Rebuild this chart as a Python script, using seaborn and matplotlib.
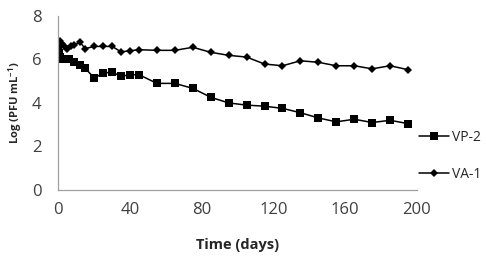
import matplotlib
matplotlib.use("Agg")
import matplotlib.pyplot as plt
import seaborn as sns
import pandas as pd

# survival of phages over time
vp2_days = [0, 0.5, 1, 2, 3, 6, 9, 12, 15, 20, 25, 30, 35, 40, 45, 55, 65, 75, 85,
            95, 105, 115, 125, 135, 145, 155, 165, 175, 185, 195]
vp2_log = [6.5, 6.3, 6.1, 6.0, 6.0, 6.0, 5.9, 5.75, 5.6, 5.14, 5.37, 5.42, 5.22, 5.3, 5.3,
           4.9, 4.9, 4.67, 4.26, 4.0, 3.9, 3.85, 3.75, 3.55, 3.31, 3.13, 3.25, 3.1, 3.2, 3.05]

va1_days = [0, 0.5, 1, 2, 3, 5, 7, 9, 12, 15, 20, 25, 30, 35, 40, 45, 55, 65, 75, 85,
            95, 105, 115, 125, 135, 145, 155, 165, 175, 185, 195]
va1_log = [6.3, 6.6, 6.85, 6.7, 6.6, 6.5, 6.6, 6.65, 6.8, 6.5, 6.6, 6.6, 6.6, 6.35, 6.4, 6.45,
           6.42, 6.42, 6.56, 6.33, 6.19, 6.11, 5.79, 5.71, 5.94, 5.87, 5.71, 5.71, 5.57, 5.71, 5.53]

vp2 = pd.DataFrame({"day": vp2_days, "log": vp2_log})
va1 = pd.DataFrame({"day": va1_days, "log": va1_log})

sns.set_style("white")
plt.rcParams["font.family"] = ["Open Sans", "DejaVu Sans"]

fig = plt.figure(figsize=(4.86, 2.58), dpi=100)
ax = fig.add_axes([0.120, 0.264, 0.738, 0.674])

sns.lineplot(data=vp2, x="day", y="log", ax=ax, color="black", lw=1.1,
             marker="s", markersize=5.5, markeredgewidth=0, label="VP-2")
sns.lineplot(data=va1, x="day", y="log", ax=ax, color="black", lw=1.1,
             marker="D", markersize=4.4, markeredgewidth=0, label="VA-1")

ax.set_xlim(0, 200)
ax.set_ylim(0, 8)
ax.set_xticks([0, 40, 80, 120, 160, 200])
ax.set_yticks([0, 2, 4, 6, 8])
ax.tick_params(axis="both", length=0, labelsize=12, labelcolor="#404040")
ax.tick_params(axis="x", pad=9)
ax.tick_params(axis="y", pad=12)
for s in ["top", "right"]:
    ax.spines[s].set_visible(False)
for s in ["left", "bottom"]:
    ax.spines[s].set_color("#a0a0a0")
    ax.spines[s].set_linewidth(0.9)

ax.set_xlabel("Time (days)", fontsize=10.5, fontweight="bold", labelpad=14)
ax.set_ylabel("Log (PFU mL$^{\\mathregular{-1}}$)", fontsize=8, fontweight="bold", labelpad=6)

ax.legend(loc="center left", bbox_to_anchor=(0.97, 0.195), frameon=False,
          fontsize=10, handlelength=2.2, labelspacing=1.55, handletextpad=0.2)

fig.savefig("out.png", dpi=100)
